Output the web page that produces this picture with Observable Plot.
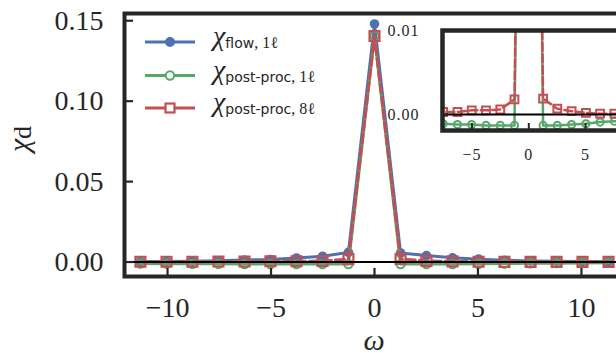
<!DOCTYPE html>
<html><head><meta charset="utf-8">
<script src="https://cdn.jsdelivr.net/npm/d3@7"></script>
<script src="https://cdn.jsdelivr.net/npm/@observablehq/plot@0.6"></script>
<style>
body{margin:0;background:#fff}
#wrap{position:relative;width:616px;height:356px;overflow:hidden;background:#fff}
#wrap svg{position:absolute;top:0;max-width:none !important}
</style></head><body><div id="wrap"></div>
<script>
// Matsubara frequencies ω_n (n = -9..9)
const omega = [-11.31, -10.05, -8.80, -7.54, -6.28, -5.03, -3.77, -2.51, -1.26, 0,
               1.26, 2.51, 3.77, 5.03, 6.28, 7.54, 8.80, 10.05, 11.31];
const chiFlow1 = [0.0003, 0.0004, 0.0005, 0.0008, 0.0012, 0.0016, 0.0025, 0.0036, 0.0060, 0.148,
                  0.0056, 0.0040, 0.0026, 0.0018, 0.0011, 0.0007, 0.0005, 0.0004, 0.0003];
const chiPost1 = [-0.0009, -0.0010, -0.0011, -0.0011, -0.0012, -0.0012, -0.0013, -0.0013, -0.0013, 0.1405,
                  -0.0013, -0.0013, -0.0012, -0.0011, -0.0009, -0.0008, -0.0007, -0.0006, -0.0005];
const chiPost8 = [0.0002, 0.0002, 0.0002, 0.0003, 0.0003, 0.0005, 0.0005, 0.0006, 0.0018, 0.1405,
                  0.0019, 0.0007, 0.0004, 0.0002, 0.0001, 0.0001, 0.0001, 0.0001, 0.0001];
const xTicks = [-10, -5, 0, 5, 10];
const yTicks = [0, 0.05, 0.10, 0.15];
const insetXTicks = [-5, 0, 5];
const insetYTicks = [0, 0.01];
const legendSub = ["flow", "post-proc", "post-proc"];
const legendLoop = ["1ℓ", "1ℓ", "8ℓ"];

const BLUE = "#4C72B0", GREEN = "#55A868", RED = "#C44E52", INK = "#262626";
const serif = "'Liberation Serif', 'DejaVu Serif', serif";

const rows = vals => omega.map((w, i) => ({w, v: vals[i]}));
const flow = rows(chiFlow1), post1 = rows(chiPost1), post8 = rows(chiPost8);

const wrap = document.getElementById("wrap");

// ---------- main plot ----------
const main = Plot.plot({
  width: 640, height: 356,
  marginLeft: 124, marginRight: 16, marginTop: 13, marginBottom: 80,
  x: {domain: [-12.08, 12.08]},
  y: {domain: [-0.009, 0.1545]},
  style: {fontFamily: serif, fontSize: "28px", background: "transparent", maxWidth: "none"},
  marks: [
    Plot.line(flow, {x: "w", y: "v", stroke: BLUE, strokeWidth: 3}),
    Plot.dot(flow, {x: "w", y: "v", fill: BLUE, r: 4.8, symbol: "circle"}),
    Plot.line(post1, {x: "w", y: "v", stroke: GREEN, strokeWidth: 3}),
    Plot.dot(post1, {x: "w", y: "v", stroke: GREEN, fill: "none", r: 4.2, strokeWidth: 2, symbol: "circle"}),
    Plot.line(post8, {x: "w", y: "v", stroke: RED, strokeWidth: 3, strokeDasharray: "9,4"}),
    Plot.dot(post8, {x: "w", y: "v", stroke: RED, fill: "none", r: 5.6, strokeWidth: 2.2, symbol: "square"}),
    Plot.ruleY([0], {stroke: "black", strokeWidth: 2}),
    Plot.frame({stroke: INK, strokeWidth: 4}),
    Plot.axisX(xTicks, {tickSize: 0, tickPadding: 21, tickFormat: d3.format("d"), color: INK, fontSize: 28, label: null}),
    Plot.axisX(xTicks, {tickSize: -8, fill: "none", stroke: INK, strokeWidth: 2.2, label: null}),
    Plot.axisY(yTicks, {tickSize: 0, tickPadding: 21, tickFormat: d3.format(".2f"), color: INK, fontSize: 28, label: null}),
    Plot.axisY(yTicks, {tickSize: -9, fill: "none", stroke: INK, strokeWidth: 2.2, label: null})
  ]
});
main.style.left = "0px";
wrap.appendChild(main);

// ---------- inset ----------
const inset = Plot.plot({
  width: 250, height: 175,
  marginLeft: 60, marginRight: 14, marginTop: 30, marginBottom: 45,
  x: {domain: [-7.6, 7.9]},
  y: {domain: [-0.0019, 0.01]},
  style: {fontFamily: serif, fontSize: "16px", background: "transparent", letterSpacing: "1px", maxWidth: "none"},
  marks: [
    Plot.frame({fill: "white"}),
    Plot.line(post1, {x: "w", y: "v", stroke: GREEN, strokeWidth: 2.5, clip: true}),
    Plot.dot(post1, {x: "w", y: "v", stroke: GREEN, fill: "none", r: 3.6, strokeWidth: 2, symbol: "circle", clip: true}),
    Plot.line(post8, {x: "w", y: "v", stroke: RED, strokeWidth: 2.5, strokeDasharray: "8,3.5", clip: true}),
    Plot.dot(post8, {x: "w", y: "v", stroke: RED, fill: "none", r: 4.4, strokeWidth: 2, symbol: "square", clip: true}),
    Plot.ruleY([0], {stroke: "black", strokeWidth: 2}),
    Plot.frame({stroke: INK, strokeWidth: 4.5}),
    Plot.axisX(insetXTicks, {tickSize: 0, tickPadding: 18, tickFormat: d3.format("d"), color: INK, fontSize: 16, label: null}),
    Plot.axisX(insetXTicks, {tickSize: -7, fill: "none", stroke: INK, strokeWidth: 2, label: null}),
    Plot.axisY(insetYTicks, {tickSize: 0, tickPadding: 23, tickFormat: d3.format(".2f"), color: INK, fontSize: 16, label: null}),
    Plot.axisY(insetYTicks, {tickSize: -5, fill: "none", stroke: INK, strokeWidth: 2, label: null})
  ]
});
inset.style.left = "382px";
wrap.appendChild(inset);

// ---------- overlay: axis labels & legend ----------
const ov = d3.select(wrap).append("svg")
  .attr("width", 616).attr("height", 356)
  .style("left", "0px").style("overflow", "visible");

// y label χ_d
const yl = ov.append("text")
  .attr("transform", "translate(29,139) rotate(-90)")
  .attr("text-anchor", "middle")
  .attr("font-family", serif).attr("fill", INK);
yl.append("tspan").attr("font-style", "italic").attr("font-size", 30).text("χ");
yl.append("tspan").attr("font-size", 26).attr("dy", 2).text("d");

// x label ω
ov.append("text")
  .attr("x", 374).attr("y", 350)
  .attr("text-anchor", "middle")
  .attr("font-family", serif).attr("font-style", "italic").attr("font-size", 30)
  .attr("fill", INK).text("ω");

// legend
const legColors = [BLUE, GREEN, RED];
const legY = [42, 75.5, 108];
legendSub.forEach((sub, i) => {
  const g = ov.append("g");
  const y = legY[i];
  g.append("line").attr("x1", 145).attr("x2", 195).attr("y1", y).attr("y2", y)
    .attr("stroke", legColors[i]).attr("stroke-width", 3);
  if (i === 0) g.append("circle").attr("cx", 170).attr("cy", y).attr("r", 5).attr("fill", BLUE);
  if (i === 1) g.append("circle").attr("cx", 170).attr("cy", y).attr("r", 4.2)
    .attr("fill", "white").attr("stroke", GREEN).attr("stroke-width", 2);
  if (i === 2) g.append("rect").attr("x", 165.5).attr("y", y - 4.5).attr("width", 9).attr("height", 9)
    .attr("fill", "white").attr("stroke", RED).attr("stroke-width", 2.2);
  const t = g.append("text").attr("x", 213).attr("y", y + 3).attr("fill", INK);
  t.append("tspan").attr("font-family", serif).attr("font-style", "italic").attr("font-size", 28).text("χ");
  t.append("tspan").attr("font-family", "'DejaVu Sans', sans-serif").attr("font-size", 14).attr("dy", 3).text(sub);
  t.append("tspan").attr("font-family", serif).attr("font-size", 16).text(", " + legendLoop[i]);
});
</script>
</body></html>
